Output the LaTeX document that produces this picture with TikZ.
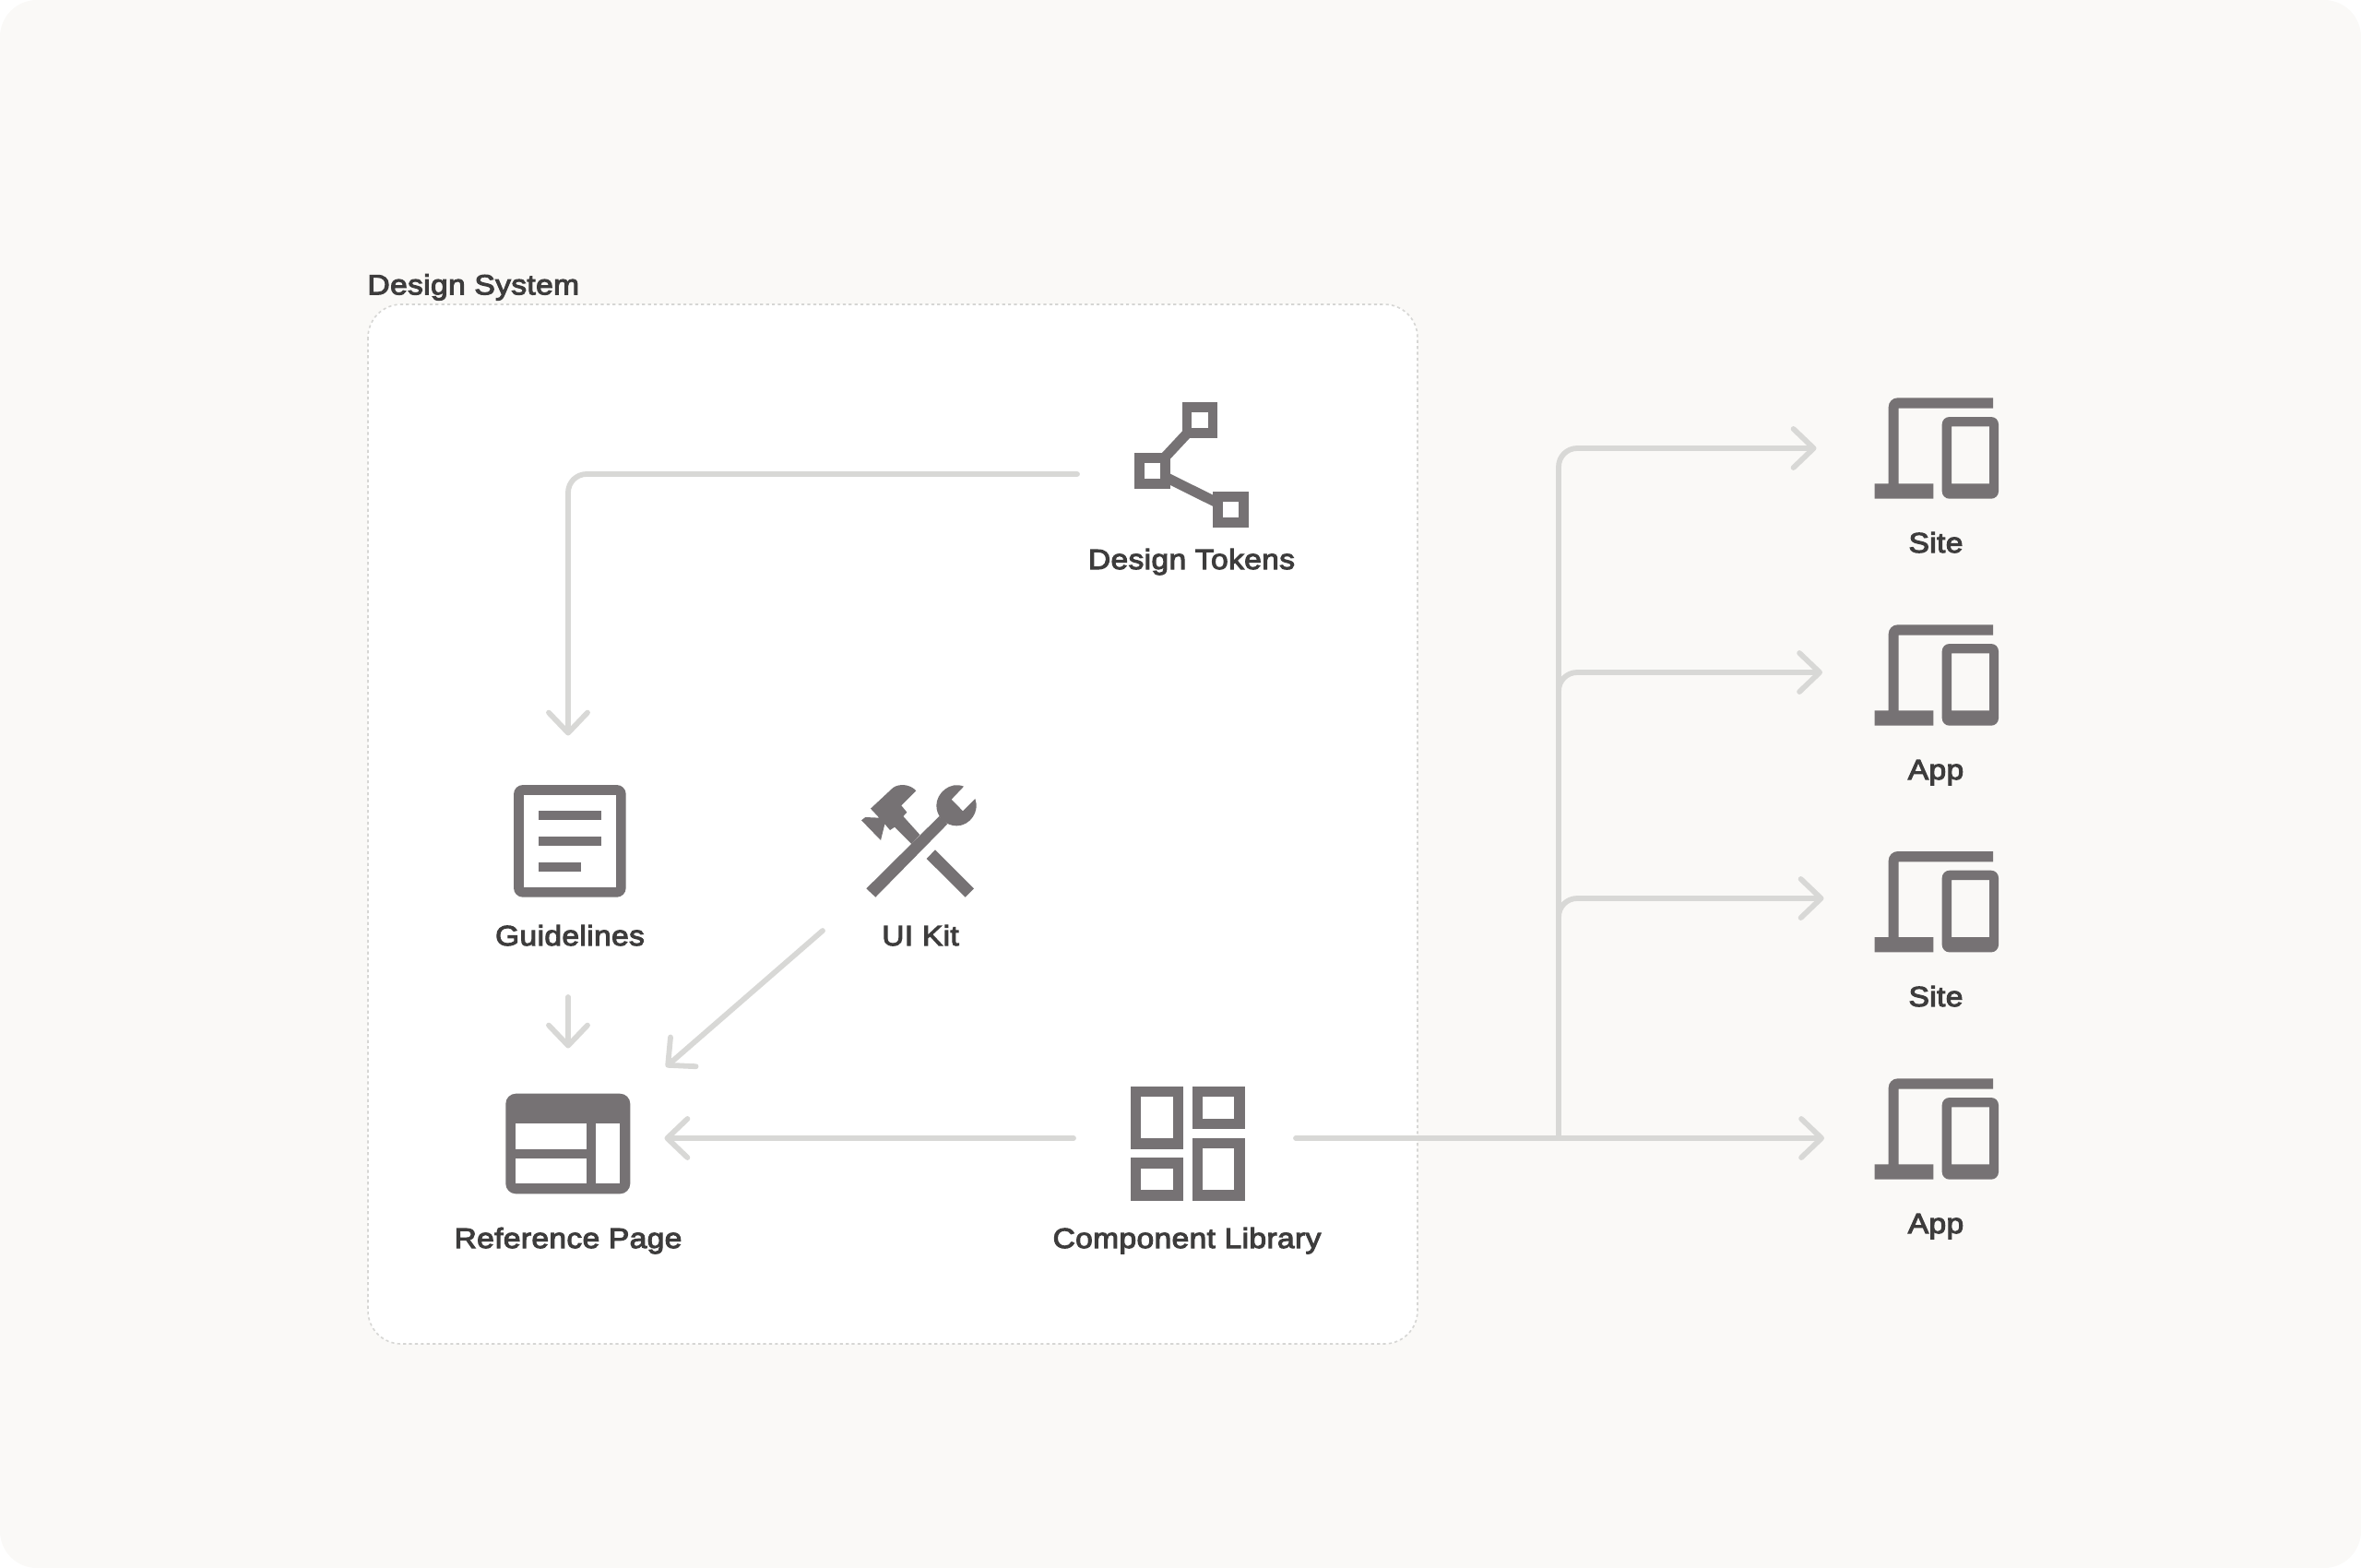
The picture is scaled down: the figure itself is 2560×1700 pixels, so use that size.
\documentclass[tikz,border=0pt]{standalone}
\usepackage{fontspec}
\setmainfont[FakeBold=3.5,FakeStretch=1.1,LetterSpace=1.2]{Liberation Sans}
\usetikzlibrary{arrows.meta}
\definecolor{pagebg}{HTML}{FAF9F7}
\definecolor{wirec}{HTML}{D8D8D6}
\definecolor{iconc}{HTML}{767274}
\definecolor{textc}{HTML}{3D3C3C}
\definecolor{dashc}{HTML}{D6D6D4}
\tikzset{
  wire/.style={draw=wirec,line width=5.8pt,line cap=round,line join=round},
  arrowed/.style={wire,-{Straight Barb[length=22pt,width=42pt,round,line width=5.8pt]}},
  label/.style={anchor=base,inner sep=0pt,outer sep=0pt,text=textc,font=\fontsize{30.5}{34}\selectfont},
  icon/.style={fill=iconc,draw=none,even odd rule},
  devices/.pic={
    \fill[iconc]
      [rounded corners=10pt] (2161,431.3) -- (2047.7,431.3) -- (2047.7,524.3)
      [sharp corners] -- (2047.7,524.3)
      -- (2032.7,524.3) -- (2032.7,540.7) -- (2096.3,540.7) -- (2096.3,524.3) -- (2058.7,524.3)
      -- (2058.7,442.7) -- (2161,442.7) -- cycle;
    \fill[iconc,even odd rule] [rounded corners=8pt] (2105.7,452) rectangle (2167,540.7)
      [sharp corners] (2116,462.3) rectangle (2157,524.3);
  }
}
\begin{document}
\begin{tikzpicture}[x=1pt,y=-1pt]
\useasboundingbox (0,0) rectangle (2560,1700);
\fill[pagebg,rounded corners=40pt] (0,0) rectangle (2560,1700);
% panel
\path[fill=white,draw=dashc,line width=1.6pt,dash pattern=on 3.2pt off 3.2pt,rounded corners=36pt] (399,330) rectangle (1537,1457);
\node[label,anchor=base west] (systemlabel) at (398.5,319.3) {Design System};

% anchors for connectors
\coordinate (tokensOut) at (1168,514);
\coordinate (guideIn) at (616,797.5);
\coordinate (guideOut) at (616,1081);
\coordinate (refTop) at (616,1136.5);
\coordinate (kitOut) at (892,1009);
\coordinate (refCorner) at (722,1156.7);
\coordinate (compIn) at (1164,1234);
\coordinate (refRight) at (720.5,1234);
\coordinate (compOut) at (1405,1234);
\coordinate (busBase) at (1690,1234);
\coordinate (site1In) at (1969.5,486);
\coordinate (app1In) at (1976,729);
\coordinate (site2In) at (1977.5,974);
\coordinate (app2In) at (1978,1234);

\draw[arrowed,rounded corners=20pt] (tokensOut) -| (guideIn);
\draw[arrowed] (guideOut) -- (refTop);
\draw[arrowed] (kitOut) -- (refCorner);
\draw[arrowed] (compIn) -- (refRight);
\draw[arrowed] (compOut) -- (app2In);
\draw[arrowed,rounded corners=20pt] (busBase) |- (site1In);
\draw[arrowed,rounded corners=20pt] (busBase) |- (app1In);
\draw[arrowed,rounded corners=20pt] (busBase) |- (site2In);

% design tokens icon
\draw[iconc,line width=11pt] (1300.8,455.3) -- (1249.6,510.2) -- (1334.3,552.3);
\fill[icon] (1281.5,436) rectangle (1320.2,474.7);
\fill[white] (1292.2,446.7) rectangle (1309.5,464);
\fill[icon] (1230.3,491) rectangle (1269,529.5);
\fill[white] (1241,501.7) rectangle (1258.3,519);
\fill[icon] (1315.2,533) rectangle (1353.6,571.7);
\fill[white] (1325.9,543.7) rectangle (1343,561);
\node[label] (tokens) at (1292,617) {Design Tokens};

% guidelines icon
\fill[icon,rounded corners=10pt] (557,851) rectangle (678.7,972.7);
\fill[white] (568,862.3) rectangle (667.6,961.7);
\fill[iconc] (584.2,878.7) rectangle (651.5,888.7);
\fill[iconc] (584.2,907) rectangle (651.5,917);
\fill[iconc] (584.2,935.3) rectangle (630,945.3);
\node[label] (guidelines) at (618,1025) {Guidelines};

% UI kit icon
\begin{scope}[shift={(920,830)},x=0.33333pt,y=-0.33333pt]
  \fill[iconc] (58,400) -- (88,428) -- (322,190) -- (295,165) -- cycle;
  \fill[iconc] (282,274) -- (408,400) -- (380,428) -- (254,303) -- cycle;
  \fill[iconc] (375,68) -- (335,110) -- (372,148) -- (412,108)
     .. controls (428,150) and (395,196) .. (352,196)
     .. controls (315,196) and (286,166) .. (286,130)
     .. controls (286,90) and (330,50) .. (375,68) -- cycle;
  \fill[iconc] (232,225) -- (205,255) -- (150,200) -- (135,210) -- (118,190) -- (105,243)
     -- (42,178) -- (55,168) -- (100,170) -- (72,140) -- (145,72)
     .. controls (165,58) and (200,60) .. (220,82)
     -- (172,130) -- (190,152) -- (178,165) -- cycle;
\end{scope}
\node[label] (uikit) at (998,1025) {UI Kit};

% reference page icon
\fill[icon,rounded corners=11pt] (548.3,1185.7) rectangle (683.3,1294.3);
\fill[white] (559.3,1218.3) rectangle (636,1245.7);
\fill[white] (559.3,1255.7) rectangle (636,1283);
\fill[white] (645.7,1218.3) rectangle (672.3,1283);
\node[label] (refpage) at (616,1353) {Reference Page};

% component library icon
\fill[iconc] (1226,1178) rectangle (1283,1245.7);
\fill[white] (1237.3,1189.3) rectangle (1272,1234.3);
\fill[iconc] (1292.7,1178) rectangle (1349.7,1224);
\fill[white] (1304,1189.3) rectangle (1338.3,1213);
\fill[iconc] (1226,1255.3) rectangle (1283,1301.7);
\fill[white] (1237.3,1266.7) rectangle (1272,1290.3);
\fill[iconc] (1292.7,1234) rectangle (1349.7,1301.7);
\fill[white] (1304,1245.3) rectangle (1338.3,1290.3);
\node[label] (complib) at (1287,1353) {Component Library};

% device icons
\pic at (0,0) {devices};
\node[label] (site1) at (2099,599) {Site};
\pic at (0,246) {devices};
\node[label] (app1) at (2099,845) {App};
\pic at (0,491.7) {devices};
\node[label] (site2) at (2099,1091) {Site};
\pic at (0,738) {devices};
\node[label] (app2) at (2099,1337) {App};
\end{tikzpicture}
\end{document}
